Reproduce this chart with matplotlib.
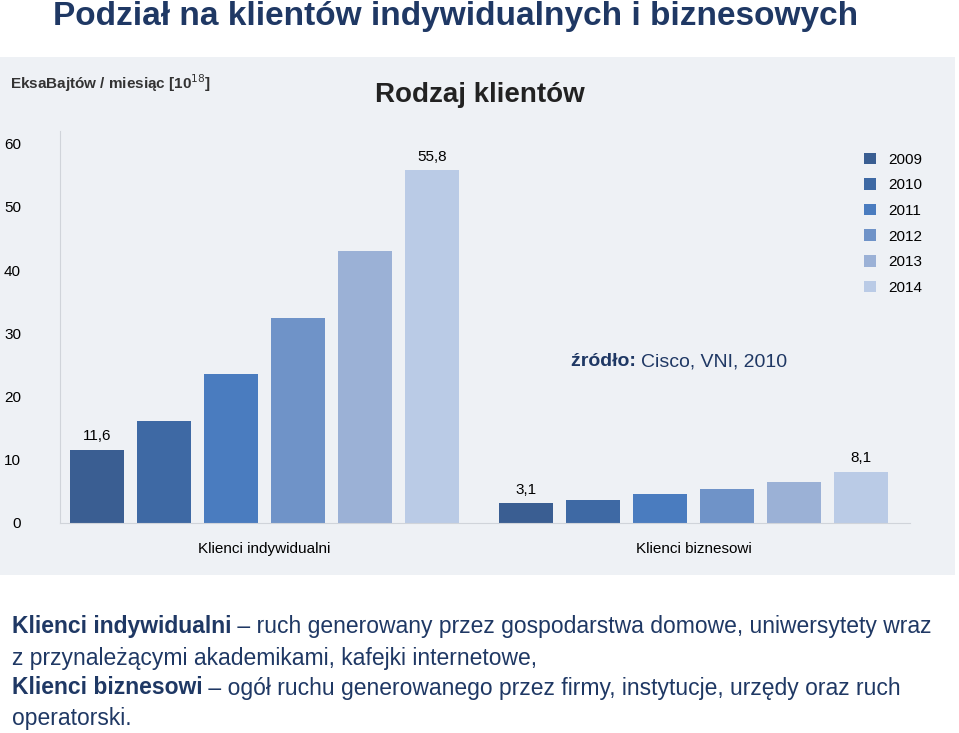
import matplotlib
matplotlib.use("Agg")
import matplotlib.pyplot as plt
from matplotlib.patches import Rectangle

years = ["2009", "2010", "2011", "2012", "2013", "2014"]
individual = [11.6, 16.1, 23.6, 32.4, 43.0, 55.8]
business = [3.1, 3.6, 4.6, 5.4, 6.5, 8.1]
colors = ["#3a5e92", "#3e69a4", "#4a7cbf", "#6f93c8", "#9bb1d6", "#bacbe6"]
yticks = [0, 10, 20, 30, 40, 50, 60]

plt.rcParams['font.family'] = ['Liberation Sans', 'DejaVu Sans']
fig = plt.figure(figsize=(9.59, 7.33), dpi=100)
fig.patches.append(Rectangle((0, 1-575/733), 955/959, (575-57)/733, transform=fig.transFigure,
                             facecolor="#eef1f5", edgecolor="none", zorder=-10))
ax = fig.add_axes([60/959, 1-523/733, 850/959, (523-131)/733])
ax.set_facecolor("none")
for i, (v, c) in enumerate(zip(individual, colors)):
    ax.bar(i, v, width=0.8, color=c, label=years[i])
for i, (v, c) in enumerate(zip(business, colors)):
    ax.bar(6.4 + i, v, width=0.8, color=c)
ax.text(0, individual[0] + 1.5, "11,6", ha="center", fontsize=11)
ax.text(5, individual[5] + 1.5, "55,8", ha="center", fontsize=11)
ax.text(6.4, business[0] + 1.5, "3,1", ha="center", fontsize=11)
ax.text(11.4, business[5] + 1.5, "8,1", ha="center", fontsize=11)
ax.set_xlim(-0.55, 12.13)
ax.set_ylim(0, 62)
ax.set_yticks(yticks)
ax.set_yticklabels([str(t) for t in yticks], fontsize=11)
ax.set_xticks([2.5, 8.9])
ax.set_xticklabels(["Klienci indywidualni", "Klienci biznesowi"], fontsize=11)
ax.tick_params(length=0, pad=14)
ax.tick_params(axis="y", pad=28)
for s in ["top", "right"]:
    ax.spines[s].set_visible(False)
for s in ["left", "bottom"]:
    ax.spines[s].set_color("#d0d4da")
ax.legend(loc="upper left", bbox_to_anchor=(0.93, 0.98), frameon=False, fontsize=11,
          handlelength=0.8, handleheight=0.8, labelspacing=0.75)

fig.text(0.055, 1-17/733, "Podział na klientów indywidualnych i biznesowych", fontsize=24,
         color="#1f3864", va="center", fontweight="bold")
fig.text(0.01, 1-83/733, "EksaBajtów / miesiąc [10$^{18}$]", fontsize=11, fontweight="bold", va="center", color="#333")
fig.text(0.50, 1-95/733, "Rodzaj klientów", fontsize=20, fontweight="bold", ha="center", va="center", color="#222")

r = fig.canvas.get_renderer()
ts = fig.text(571/959, 1-362/733, "źródło: ", fontsize=14, fontweight="bold", va="center", color="#1f3864")
fig.text(571/959 + ts.get_window_extent(r).width/959, 1-362/733, "Cisco, VNI, 2010",
         fontsize=14, va="center", color="#1f3864")

lines = [("Klienci indywidualni", " – ruch generowany przez gospodarstwa domowe, uniwersytety wraz"),
         ("", "z przynależącymi akademikami, kafejki internetowe,"),
         ("Klienci biznesowi", " – ogół ruchu generowanego przez firmy, instytucje, urzędy oraz ruch"),
         ("", "operatorski.")]
ys = [627, 658, 688, 718]
for (b, t), y in zip(lines, ys):
    x = 0.012
    if b:
        tb = fig.text(x, 1-y/733, b, fontsize=16.5, fontweight="bold", color="#1f3864", va="center")
        x += tb.get_window_extent(r).width / 959
    fig.text(x, 1-y/733, t, fontsize=16.5, color="#1f3864", va="center")

fig.savefig("out.png", dpi=100)
